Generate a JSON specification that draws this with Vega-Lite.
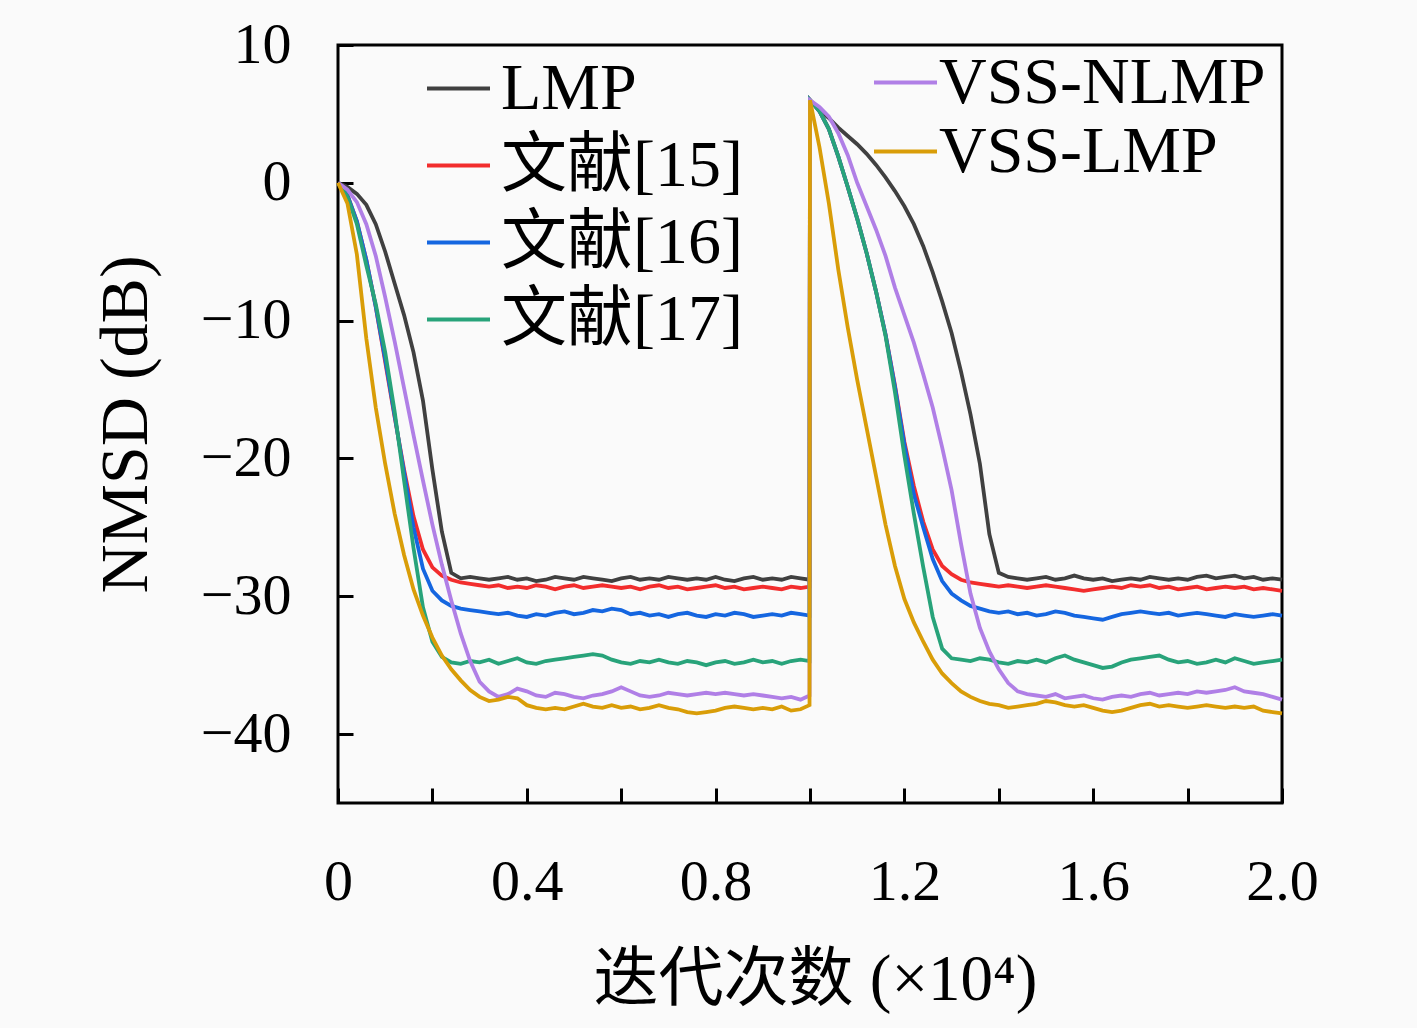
{
  "$schema": "https://vega.github.io/schema/vega-lite/v6.json",
  "width": 944,
  "height": 758,
  "autosize": "none",
  "padding": {"left": 338, "top": 45, "right": 135, "bottom": 225},
  "background": "#fafafa",
  "data": {
    "values": [
      {"s":"L","x":0,"y":0},{"s":"L","x":0.02,"y":-0.3},{"s":"L","x":0.04,"y":-0.8},{"s":"L","x":0.06,"y":-1.6},{"s":"L","x":0.08,"y":-3.0},{"s":"L","x":0.1,"y":-5.0},{"s":"L","x":0.12,"y":-7.3},{"s":"L","x":0.14,"y":-9.6},{"s":"L","x":0.16,"y":-12.3},{"s":"L","x":0.18,"y":-15.8},{"s":"L","x":0.2,"y":-20.8},{"s":"L","x":0.22,"y":-25.3},{"s":"L","x":0.24,"y":-28.3},{"s":"L","x":0.26,"y":-28.7},{"s":"L","x":0.28,"y":-28.6},{"s":"L","x":0.3,"y":-28.7},{"s":"L","x":0.32,"y":-28.8},{"s":"L","x":0.34,"y":-28.7},{"s":"L","x":0.36,"y":-28.6},{"s":"L","x":0.38,"y":-28.8},{"s":"L","x":0.4,"y":-28.7},{"s":"L","x":0.42,"y":-28.9},{"s":"L","x":0.44,"y":-28.8},{"s":"L","x":0.46,"y":-28.6},{"s":"L","x":0.48,"y":-28.7},{"s":"L","x":0.5,"y":-28.8},{"s":"L","x":0.52,"y":-28.6},{"s":"L","x":0.54,"y":-28.7},{"s":"L","x":0.56,"y":-28.8},{"s":"L","x":0.58,"y":-28.9},{"s":"L","x":0.6,"y":-28.7},{"s":"L","x":0.62,"y":-28.6},{"s":"L","x":0.64,"y":-28.8},{"s":"L","x":0.66,"y":-28.7},{"s":"L","x":0.68,"y":-28.8},{"s":"L","x":0.7,"y":-28.6},{"s":"L","x":0.72,"y":-28.7},{"s":"L","x":0.74,"y":-28.8},{"s":"L","x":0.76,"y":-28.7},{"s":"L","x":0.78,"y":-28.8},{"s":"L","x":0.8,"y":-28.6},{"s":"L","x":0.82,"y":-28.8},{"s":"L","x":0.84,"y":-28.9},{"s":"L","x":0.86,"y":-28.7},{"s":"L","x":0.88,"y":-28.6},{"s":"L","x":0.9,"y":-28.8},{"s":"L","x":0.92,"y":-28.7},{"s":"L","x":0.94,"y":-28.8},{"s":"L","x":0.96,"y":-28.6},{"s":"L","x":0.98,"y":-28.7},{"s":"L","x":0.999,"y":-28.8},
      {"s":"L","x":1,"y":6.0},{"s":"L","x":1.02,"y":5.3},{"s":"L","x":1.04,"y":4.7},{"s":"L","x":1.06,"y":4.0},{"s":"L","x":1.08,"y":3.4},{"s":"L","x":1.1,"y":2.8},{"s":"L","x":1.12,"y":2.1},{"s":"L","x":1.14,"y":1.3},{"s":"L","x":1.16,"y":0.4},{"s":"L","x":1.18,"y":-0.6},{"s":"L","x":1.2,"y":-1.7},{"s":"L","x":1.22,"y":-3.0},{"s":"L","x":1.24,"y":-4.6},{"s":"L","x":1.26,"y":-6.5},{"s":"L","x":1.28,"y":-8.6},{"s":"L","x":1.3,"y":-10.9},{"s":"L","x":1.32,"y":-13.7},{"s":"L","x":1.34,"y":-16.8},{"s":"L","x":1.36,"y":-20.4},{"s":"L","x":1.38,"y":-25.5},{"s":"L","x":1.4,"y":-28.3},{"s":"L","x":1.42,"y":-28.6},{"s":"L","x":1.44,"y":-28.7},{"s":"L","x":1.46,"y":-28.8},{"s":"L","x":1.48,"y":-28.7},{"s":"L","x":1.5,"y":-28.6},{"s":"L","x":1.52,"y":-28.8},{"s":"L","x":1.54,"y":-28.7},{"s":"L","x":1.56,"y":-28.5},{"s":"L","x":1.58,"y":-28.7},{"s":"L","x":1.6,"y":-28.8},{"s":"L","x":1.62,"y":-28.7},{"s":"L","x":1.64,"y":-28.9},{"s":"L","x":1.66,"y":-28.8},{"s":"L","x":1.68,"y":-28.7},{"s":"L","x":1.7,"y":-28.8},{"s":"L","x":1.72,"y":-28.6},{"s":"L","x":1.74,"y":-28.7},{"s":"L","x":1.76,"y":-28.8},{"s":"L","x":1.78,"y":-28.7},{"s":"L","x":1.8,"y":-28.8},{"s":"L","x":1.82,"y":-28.6},{"s":"L","x":1.84,"y":-28.5},{"s":"L","x":1.86,"y":-28.7},{"s":"L","x":1.88,"y":-28.6},{"s":"L","x":1.9,"y":-28.5},{"s":"L","x":1.92,"y":-28.7},{"s":"L","x":1.94,"y":-28.6},{"s":"L","x":1.96,"y":-28.8},{"s":"L","x":1.98,"y":-28.7},{"s":"L","x":2,"y":-28.8},

      {"s":"R","x":0,"y":0},{"s":"R","x":0.02,"y":-0.9},{"s":"R","x":0.04,"y":-2.8},{"s":"R","x":0.06,"y":-5.6},{"s":"R","x":0.08,"y":-9.0},{"s":"R","x":0.1,"y":-13.0},{"s":"R","x":0.12,"y":-17.0},{"s":"R","x":0.14,"y":-20.8},{"s":"R","x":0.16,"y":-24.2},{"s":"R","x":0.18,"y":-26.6},{"s":"R","x":0.2,"y":-27.9},{"s":"R","x":0.22,"y":-28.5},{"s":"R","x":0.24,"y":-28.8},{"s":"R","x":0.26,"y":-29.0},{"s":"R","x":0.28,"y":-29.1},{"s":"R","x":0.3,"y":-29.2},{"s":"R","x":0.32,"y":-29.3},{"s":"R","x":0.34,"y":-29.2},{"s":"R","x":0.36,"y":-29.4},{"s":"R","x":0.38,"y":-29.3},{"s":"R","x":0.4,"y":-29.4},{"s":"R","x":0.42,"y":-29.2},{"s":"R","x":0.44,"y":-29.3},{"s":"R","x":0.46,"y":-29.5},{"s":"R","x":0.48,"y":-29.3},{"s":"R","x":0.5,"y":-29.2},{"s":"R","x":0.52,"y":-29.4},{"s":"R","x":0.54,"y":-29.3},{"s":"R","x":0.56,"y":-29.2},{"s":"R","x":0.58,"y":-29.3},{"s":"R","x":0.6,"y":-29.4},{"s":"R","x":0.62,"y":-29.3},{"s":"R","x":0.64,"y":-29.5},{"s":"R","x":0.66,"y":-29.3},{"s":"R","x":0.68,"y":-29.2},{"s":"R","x":0.7,"y":-29.4},{"s":"R","x":0.72,"y":-29.3},{"s":"R","x":0.74,"y":-29.5},{"s":"R","x":0.76,"y":-29.4},{"s":"R","x":0.78,"y":-29.3},{"s":"R","x":0.8,"y":-29.2},{"s":"R","x":0.82,"y":-29.4},{"s":"R","x":0.84,"y":-29.3},{"s":"R","x":0.86,"y":-29.5},{"s":"R","x":0.88,"y":-29.4},{"s":"R","x":0.9,"y":-29.3},{"s":"R","x":0.92,"y":-29.4},{"s":"R","x":0.94,"y":-29.5},{"s":"R","x":0.96,"y":-29.3},{"s":"R","x":0.98,"y":-29.4},{"s":"R","x":0.999,"y":-29.3},
      {"s":"R","x":1,"y":6.0},{"s":"R","x":1.02,"y":5.2},{"s":"R","x":1.04,"y":3.9},{"s":"R","x":1.06,"y":1.9},{"s":"R","x":1.08,"y":-0.3},{"s":"R","x":1.1,"y":-2.6},{"s":"R","x":1.12,"y":-5.1},{"s":"R","x":1.14,"y":-7.9},{"s":"R","x":1.16,"y":-11.0},{"s":"R","x":1.18,"y":-14.7},{"s":"R","x":1.2,"y":-18.8},{"s":"R","x":1.22,"y":-22.0},{"s":"R","x":1.24,"y":-24.6},{"s":"R","x":1.26,"y":-26.6},{"s":"R","x":1.28,"y":-27.8},{"s":"R","x":1.3,"y":-28.4},{"s":"R","x":1.32,"y":-28.8},{"s":"R","x":1.34,"y":-29.0},{"s":"R","x":1.36,"y":-29.1},{"s":"R","x":1.38,"y":-29.2},{"s":"R","x":1.4,"y":-29.3},{"s":"R","x":1.42,"y":-29.2},{"s":"R","x":1.44,"y":-29.3},{"s":"R","x":1.46,"y":-29.4},{"s":"R","x":1.48,"y":-29.3},{"s":"R","x":1.5,"y":-29.2},{"s":"R","x":1.52,"y":-29.3},{"s":"R","x":1.54,"y":-29.4},{"s":"R","x":1.56,"y":-29.5},{"s":"R","x":1.58,"y":-29.6},{"s":"R","x":1.6,"y":-29.5},{"s":"R","x":1.62,"y":-29.4},{"s":"R","x":1.64,"y":-29.3},{"s":"R","x":1.66,"y":-29.4},{"s":"R","x":1.68,"y":-29.2},{"s":"R","x":1.7,"y":-29.3},{"s":"R","x":1.72,"y":-29.2},{"s":"R","x":1.74,"y":-29.4},{"s":"R","x":1.76,"y":-29.3},{"s":"R","x":1.78,"y":-29.5},{"s":"R","x":1.8,"y":-29.4},{"s":"R","x":1.82,"y":-29.3},{"s":"R","x":1.84,"y":-29.5},{"s":"R","x":1.86,"y":-29.4},{"s":"R","x":1.88,"y":-29.3},{"s":"R","x":1.9,"y":-29.4},{"s":"R","x":1.92,"y":-29.3},{"s":"R","x":1.94,"y":-29.5},{"s":"R","x":1.96,"y":-29.4},{"s":"R","x":1.98,"y":-29.5},{"s":"R","x":2,"y":-29.6},

      {"s":"B","x":0,"y":0},{"s":"B","x":0.02,"y":-0.9},{"s":"B","x":0.04,"y":-2.8},{"s":"B","x":0.06,"y":-5.6},{"s":"B","x":0.08,"y":-9.0},{"s":"B","x":0.1,"y":-12.8},{"s":"B","x":0.12,"y":-16.9},{"s":"B","x":0.14,"y":-21.0},{"s":"B","x":0.16,"y":-25.0},{"s":"B","x":0.18,"y":-28.0},{"s":"B","x":0.2,"y":-29.6},{"s":"B","x":0.22,"y":-30.3},{"s":"B","x":0.24,"y":-30.7},{"s":"B","x":0.26,"y":-30.9},{"s":"B","x":0.28,"y":-31.0},{"s":"B","x":0.3,"y":-31.1},{"s":"B","x":0.32,"y":-31.2},{"s":"B","x":0.34,"y":-31.3},{"s":"B","x":0.36,"y":-31.2},{"s":"B","x":0.38,"y":-31.4},{"s":"B","x":0.4,"y":-31.5},{"s":"B","x":0.42,"y":-31.3},{"s":"B","x":0.44,"y":-31.4},{"s":"B","x":0.46,"y":-31.2},{"s":"B","x":0.48,"y":-31.1},{"s":"B","x":0.5,"y":-31.3},{"s":"B","x":0.52,"y":-31.2},{"s":"B","x":0.54,"y":-31.0},{"s":"B","x":0.56,"y":-31.1},{"s":"B","x":0.58,"y":-30.9},{"s":"B","x":0.6,"y":-31.0},{"s":"B","x":0.62,"y":-31.3},{"s":"B","x":0.64,"y":-31.2},{"s":"B","x":0.66,"y":-31.4},{"s":"B","x":0.68,"y":-31.3},{"s":"B","x":0.7,"y":-31.5},{"s":"B","x":0.72,"y":-31.3},{"s":"B","x":0.74,"y":-31.2},{"s":"B","x":0.76,"y":-31.4},{"s":"B","x":0.78,"y":-31.5},{"s":"B","x":0.8,"y":-31.3},{"s":"B","x":0.82,"y":-31.4},{"s":"B","x":0.84,"y":-31.2},{"s":"B","x":0.86,"y":-31.3},{"s":"B","x":0.88,"y":-31.5},{"s":"B","x":0.9,"y":-31.4},{"s":"B","x":0.92,"y":-31.3},{"s":"B","x":0.94,"y":-31.4},{"s":"B","x":0.96,"y":-31.2},{"s":"B","x":0.98,"y":-31.3},{"s":"B","x":0.999,"y":-31.4},
      {"s":"B","x":1,"y":6.0},{"s":"B","x":1.02,"y":5.2},{"s":"B","x":1.04,"y":3.9},{"s":"B","x":1.06,"y":1.9},{"s":"B","x":1.08,"y":-0.3},{"s":"B","x":1.1,"y":-2.6},{"s":"B","x":1.12,"y":-5.1},{"s":"B","x":1.14,"y":-7.9},{"s":"B","x":1.16,"y":-11.0},{"s":"B","x":1.18,"y":-14.8},{"s":"B","x":1.2,"y":-19.0},{"s":"B","x":1.22,"y":-22.6},{"s":"B","x":1.24,"y":-25.0},{"s":"B","x":1.26,"y":-27.3},{"s":"B","x":1.28,"y":-28.9},{"s":"B","x":1.3,"y":-29.8},{"s":"B","x":1.32,"y":-30.3},{"s":"B","x":1.34,"y":-30.7},{"s":"B","x":1.36,"y":-30.9},{"s":"B","x":1.38,"y":-31.1},{"s":"B","x":1.4,"y":-31.2},{"s":"B","x":1.42,"y":-31.1},{"s":"B","x":1.44,"y":-31.3},{"s":"B","x":1.46,"y":-31.2},{"s":"B","x":1.48,"y":-31.4},{"s":"B","x":1.5,"y":-31.3},{"s":"B","x":1.52,"y":-31.1},{"s":"B","x":1.54,"y":-31.2},{"s":"B","x":1.56,"y":-31.4},{"s":"B","x":1.58,"y":-31.5},{"s":"B","x":1.6,"y":-31.6},{"s":"B","x":1.62,"y":-31.7},{"s":"B","x":1.64,"y":-31.5},{"s":"B","x":1.66,"y":-31.3},{"s":"B","x":1.68,"y":-31.2},{"s":"B","x":1.7,"y":-31.1},{"s":"B","x":1.72,"y":-31.2},{"s":"B","x":1.74,"y":-31.3},{"s":"B","x":1.76,"y":-31.2},{"s":"B","x":1.78,"y":-31.4},{"s":"B","x":1.8,"y":-31.3},{"s":"B","x":1.82,"y":-31.2},{"s":"B","x":1.84,"y":-31.3},{"s":"B","x":1.86,"y":-31.4},{"s":"B","x":1.88,"y":-31.5},{"s":"B","x":1.9,"y":-31.3},{"s":"B","x":1.92,"y":-31.4},{"s":"B","x":1.94,"y":-31.5},{"s":"B","x":1.96,"y":-31.4},{"s":"B","x":1.98,"y":-31.3},{"s":"B","x":2,"y":-31.4},

      {"s":"G","x":0,"y":0},{"s":"G","x":0.02,"y":-1.0},{"s":"G","x":0.04,"y":-3.0},{"s":"G","x":0.06,"y":-6.0},{"s":"G","x":0.08,"y":-8.8},{"s":"G","x":0.1,"y":-12.3},{"s":"G","x":0.12,"y":-16.6},{"s":"G","x":0.14,"y":-21.6},{"s":"G","x":0.16,"y":-26.5},{"s":"G","x":0.18,"y":-30.8},{"s":"G","x":0.2,"y":-33.3},{"s":"G","x":0.22,"y":-34.4},{"s":"G","x":0.24,"y":-34.8},{"s":"G","x":0.26,"y":-34.9},{"s":"G","x":0.28,"y":-34.7},{"s":"G","x":0.3,"y":-34.8},{"s":"G","x":0.32,"y":-34.6},{"s":"G","x":0.34,"y":-34.9},{"s":"G","x":0.36,"y":-34.7},{"s":"G","x":0.38,"y":-34.5},{"s":"G","x":0.4,"y":-34.8},{"s":"G","x":0.42,"y":-34.9},{"s":"G","x":0.44,"y":-34.7},{"s":"G","x":0.46,"y":-34.6},{"s":"G","x":0.48,"y":-34.5},{"s":"G","x":0.5,"y":-34.4},{"s":"G","x":0.52,"y":-34.3},{"s":"G","x":0.54,"y":-34.2},{"s":"G","x":0.56,"y":-34.3},{"s":"G","x":0.58,"y":-34.6},{"s":"G","x":0.6,"y":-34.8},{"s":"G","x":0.62,"y":-34.9},{"s":"G","x":0.64,"y":-34.7},{"s":"G","x":0.66,"y":-34.8},{"s":"G","x":0.68,"y":-34.6},{"s":"G","x":0.7,"y":-34.8},{"s":"G","x":0.72,"y":-34.9},{"s":"G","x":0.74,"y":-34.7},{"s":"G","x":0.76,"y":-34.8},{"s":"G","x":0.78,"y":-35.0},{"s":"G","x":0.8,"y":-34.8},{"s":"G","x":0.82,"y":-34.7},{"s":"G","x":0.84,"y":-34.9},{"s":"G","x":0.86,"y":-34.8},{"s":"G","x":0.88,"y":-34.6},{"s":"G","x":0.9,"y":-34.8},{"s":"G","x":0.92,"y":-34.7},{"s":"G","x":0.94,"y":-34.9},{"s":"G","x":0.96,"y":-34.7},{"s":"G","x":0.98,"y":-34.6},{"s":"G","x":0.999,"y":-34.7},
      {"s":"G","x":1,"y":6.0},{"s":"G","x":1.02,"y":5.2},{"s":"G","x":1.04,"y":3.9},{"s":"G","x":1.06,"y":1.9},{"s":"G","x":1.08,"y":-0.3},{"s":"G","x":1.1,"y":-2.6},{"s":"G","x":1.12,"y":-5.1},{"s":"G","x":1.14,"y":-7.9},{"s":"G","x":1.16,"y":-11.1},{"s":"G","x":1.18,"y":-15.2},{"s":"G","x":1.2,"y":-19.8},{"s":"G","x":1.22,"y":-24.0},{"s":"G","x":1.24,"y":-27.9},{"s":"G","x":1.26,"y":-31.5},{"s":"G","x":1.28,"y":-33.8},{"s":"G","x":1.3,"y":-34.5},{"s":"G","x":1.32,"y":-34.6},{"s":"G","x":1.34,"y":-34.7},{"s":"G","x":1.36,"y":-34.5},{"s":"G","x":1.38,"y":-34.6},{"s":"G","x":1.4,"y":-34.8},{"s":"G","x":1.42,"y":-34.9},{"s":"G","x":1.44,"y":-34.7},{"s":"G","x":1.46,"y":-34.8},{"s":"G","x":1.48,"y":-34.6},{"s":"G","x":1.5,"y":-34.8},{"s":"G","x":1.52,"y":-34.5},{"s":"G","x":1.54,"y":-34.3},{"s":"G","x":1.56,"y":-34.6},{"s":"G","x":1.58,"y":-34.8},{"s":"G","x":1.6,"y":-35.0},{"s":"G","x":1.62,"y":-35.2},{"s":"G","x":1.64,"y":-35.1},{"s":"G","x":1.66,"y":-34.8},{"s":"G","x":1.68,"y":-34.6},{"s":"G","x":1.7,"y":-34.5},{"s":"G","x":1.72,"y":-34.4},{"s":"G","x":1.74,"y":-34.3},{"s":"G","x":1.76,"y":-34.6},{"s":"G","x":1.78,"y":-34.8},{"s":"G","x":1.8,"y":-34.7},{"s":"G","x":1.82,"y":-34.9},{"s":"G","x":1.84,"y":-34.8},{"s":"G","x":1.86,"y":-34.6},{"s":"G","x":1.88,"y":-34.8},{"s":"G","x":1.9,"y":-34.5},{"s":"G","x":1.92,"y":-34.7},{"s":"G","x":1.94,"y":-34.9},{"s":"G","x":1.96,"y":-34.8},{"s":"G","x":1.98,"y":-34.7},{"s":"G","x":2,"y":-34.6},

      {"s":"P","x":0,"y":0},{"s":"P","x":0.02,"y":-0.5},{"s":"P","x":0.04,"y":-1.4},{"s":"P","x":0.06,"y":-3.0},{"s":"P","x":0.08,"y":-5.3},{"s":"P","x":0.1,"y":-8.3},{"s":"P","x":0.12,"y":-11.5},{"s":"P","x":0.14,"y":-14.9},{"s":"P","x":0.16,"y":-18.3},{"s":"P","x":0.18,"y":-21.6},{"s":"P","x":0.2,"y":-24.8},{"s":"P","x":0.22,"y":-27.7},{"s":"P","x":0.24,"y":-30.3},{"s":"P","x":0.26,"y":-32.7},{"s":"P","x":0.28,"y":-34.7},{"s":"P","x":0.3,"y":-36.2},{"s":"P","x":0.32,"y":-36.9},{"s":"P","x":0.34,"y":-37.3},{"s":"P","x":0.36,"y":-37.1},{"s":"P","x":0.38,"y":-36.7},{"s":"P","x":0.4,"y":-36.9},{"s":"P","x":0.42,"y":-37.2},{"s":"P","x":0.44,"y":-37.3},{"s":"P","x":0.46,"y":-37.0},{"s":"P","x":0.48,"y":-37.1},{"s":"P","x":0.5,"y":-37.3},{"s":"P","x":0.52,"y":-37.4},{"s":"P","x":0.54,"y":-37.2},{"s":"P","x":0.56,"y":-37.1},{"s":"P","x":0.58,"y":-36.9},{"s":"P","x":0.6,"y":-36.6},{"s":"P","x":0.62,"y":-36.9},{"s":"P","x":0.64,"y":-37.2},{"s":"P","x":0.66,"y":-37.3},{"s":"P","x":0.68,"y":-37.2},{"s":"P","x":0.7,"y":-37.0},{"s":"P","x":0.72,"y":-37.1},{"s":"P","x":0.74,"y":-37.2},{"s":"P","x":0.76,"y":-37.1},{"s":"P","x":0.78,"y":-37.0},{"s":"P","x":0.8,"y":-37.1},{"s":"P","x":0.82,"y":-37.0},{"s":"P","x":0.84,"y":-37.1},{"s":"P","x":0.86,"y":-37.2},{"s":"P","x":0.88,"y":-37.1},{"s":"P","x":0.9,"y":-37.2},{"s":"P","x":0.92,"y":-37.3},{"s":"P","x":0.94,"y":-37.4},{"s":"P","x":0.96,"y":-37.3},{"s":"P","x":0.98,"y":-37.5},{"s":"P","x":0.999,"y":-37.2},
      {"s":"P","x":1,"y":6.0},{"s":"P","x":1.02,"y":5.5},{"s":"P","x":1.04,"y":4.8},{"s":"P","x":1.06,"y":3.6},{"s":"P","x":1.08,"y":2.0},{"s":"P","x":1.1,"y":0.0},{"s":"P","x":1.12,"y":-1.7},{"s":"P","x":1.14,"y":-3.4},{"s":"P","x":1.16,"y":-5.3},{"s":"P","x":1.18,"y":-7.6},{"s":"P","x":1.2,"y":-9.6},{"s":"P","x":1.22,"y":-11.6},{"s":"P","x":1.24,"y":-13.9},{"s":"P","x":1.26,"y":-16.3},{"s":"P","x":1.28,"y":-19.2},{"s":"P","x":1.3,"y":-22.3},{"s":"P","x":1.32,"y":-26.2},{"s":"P","x":1.34,"y":-29.8},{"s":"P","x":1.36,"y":-32.3},{"s":"P","x":1.38,"y":-34.0},{"s":"P","x":1.4,"y":-35.3},{"s":"P","x":1.42,"y":-36.3},{"s":"P","x":1.44,"y":-36.9},{"s":"P","x":1.46,"y":-37.1},{"s":"P","x":1.48,"y":-37.2},{"s":"P","x":1.5,"y":-37.3},{"s":"P","x":1.52,"y":-37.1},{"s":"P","x":1.54,"y":-37.4},{"s":"P","x":1.56,"y":-37.3},{"s":"P","x":1.58,"y":-37.2},{"s":"P","x":1.6,"y":-37.4},{"s":"P","x":1.62,"y":-37.5},{"s":"P","x":1.64,"y":-37.3},{"s":"P","x":1.66,"y":-37.2},{"s":"P","x":1.68,"y":-37.3},{"s":"P","x":1.7,"y":-37.1},{"s":"P","x":1.72,"y":-37.0},{"s":"P","x":1.74,"y":-37.2},{"s":"P","x":1.76,"y":-37.1},{"s":"P","x":1.78,"y":-37.0},{"s":"P","x":1.8,"y":-37.1},{"s":"P","x":1.82,"y":-36.9},{"s":"P","x":1.84,"y":-37.0},{"s":"P","x":1.86,"y":-36.9},{"s":"P","x":1.88,"y":-36.8},{"s":"P","x":1.9,"y":-36.6},{"s":"P","x":1.92,"y":-36.9},{"s":"P","x":1.94,"y":-37.0},{"s":"P","x":1.96,"y":-37.1},{"s":"P","x":1.98,"y":-37.3},{"s":"P","x":2,"y":-37.5},

      {"s":"O","x":0,"y":0},{"s":"O","x":0.02,"y":-1.5},{"s":"O","x":0.04,"y":-5.2},{"s":"O","x":0.06,"y":-11.3},{"s":"O","x":0.08,"y":-16.3},{"s":"O","x":0.1,"y":-20.4},{"s":"O","x":0.12,"y":-24.0},{"s":"O","x":0.14,"y":-27.0},{"s":"O","x":0.16,"y":-29.5},{"s":"O","x":0.18,"y":-31.4},{"s":"O","x":0.2,"y":-33.0},{"s":"O","x":0.22,"y":-34.3},{"s":"O","x":0.24,"y":-35.3},{"s":"O","x":0.26,"y":-36.1},{"s":"O","x":0.28,"y":-36.8},{"s":"O","x":0.3,"y":-37.3},{"s":"O","x":0.32,"y":-37.6},{"s":"O","x":0.34,"y":-37.5},{"s":"O","x":0.36,"y":-37.3},{"s":"O","x":0.38,"y":-37.4},{"s":"O","x":0.4,"y":-37.9},{"s":"O","x":0.42,"y":-38.1},{"s":"O","x":0.44,"y":-38.2},{"s":"O","x":0.46,"y":-38.1},{"s":"O","x":0.48,"y":-38.2},{"s":"O","x":0.5,"y":-38.0},{"s":"O","x":0.52,"y":-37.8},{"s":"O","x":0.54,"y":-38.0},{"s":"O","x":0.56,"y":-38.1},{"s":"O","x":0.58,"y":-37.9},{"s":"O","x":0.6,"y":-38.1},{"s":"O","x":0.62,"y":-38.0},{"s":"O","x":0.64,"y":-38.2},{"s":"O","x":0.66,"y":-38.1},{"s":"O","x":0.68,"y":-37.9},{"s":"O","x":0.7,"y":-38.1},{"s":"O","x":0.72,"y":-38.2},{"s":"O","x":0.74,"y":-38.4},{"s":"O","x":0.76,"y":-38.5},{"s":"O","x":0.78,"y":-38.4},{"s":"O","x":0.8,"y":-38.3},{"s":"O","x":0.82,"y":-38.1},{"s":"O","x":0.84,"y":-38.0},{"s":"O","x":0.86,"y":-38.1},{"s":"O","x":0.88,"y":-38.2},{"s":"O","x":0.9,"y":-38.1},{"s":"O","x":0.92,"y":-38.2},{"s":"O","x":0.94,"y":-38.0},{"s":"O","x":0.96,"y":-38.3},{"s":"O","x":0.98,"y":-38.2},{"s":"O","x":0.999,"y":-37.9},
      {"s":"O","x":1,"y":6.0},{"s":"O","x":1.02,"y":2.6},{"s":"O","x":1.04,"y":-1.5},{"s":"O","x":1.06,"y":-6.3},{"s":"O","x":1.08,"y":-10.5},{"s":"O","x":1.1,"y":-14.3},{"s":"O","x":1.12,"y":-17.8},{"s":"O","x":1.14,"y":-21.3},{"s":"O","x":1.16,"y":-24.8},{"s":"O","x":1.18,"y":-27.8},{"s":"O","x":1.2,"y":-30.2},{"s":"O","x":1.22,"y":-31.9},{"s":"O","x":1.24,"y":-33.3},{"s":"O","x":1.26,"y":-34.6},{"s":"O","x":1.28,"y":-35.6},{"s":"O","x":1.3,"y":-36.3},{"s":"O","x":1.32,"y":-36.9},{"s":"O","x":1.34,"y":-37.3},{"s":"O","x":1.36,"y":-37.6},{"s":"O","x":1.38,"y":-37.8},{"s":"O","x":1.4,"y":-37.9},{"s":"O","x":1.42,"y":-38.1},{"s":"O","x":1.44,"y":-38.0},{"s":"O","x":1.46,"y":-37.9},{"s":"O","x":1.48,"y":-37.8},{"s":"O","x":1.5,"y":-37.6},{"s":"O","x":1.52,"y":-37.7},{"s":"O","x":1.54,"y":-37.9},{"s":"O","x":1.56,"y":-38.0},{"s":"O","x":1.58,"y":-37.9},{"s":"O","x":1.6,"y":-38.1},{"s":"O","x":1.62,"y":-38.3},{"s":"O","x":1.64,"y":-38.4},{"s":"O","x":1.66,"y":-38.3},{"s":"O","x":1.68,"y":-38.1},{"s":"O","x":1.7,"y":-37.9},{"s":"O","x":1.72,"y":-37.8},{"s":"O","x":1.74,"y":-38.0},{"s":"O","x":1.76,"y":-37.9},{"s":"O","x":1.78,"y":-38.0},{"s":"O","x":1.8,"y":-38.1},{"s":"O","x":1.82,"y":-38.0},{"s":"O","x":1.84,"y":-37.9},{"s":"O","x":1.86,"y":-38.0},{"s":"O","x":1.88,"y":-38.1},{"s":"O","x":1.9,"y":-38.0},{"s":"O","x":1.92,"y":-38.1},{"s":"O","x":1.94,"y":-38.0},{"s":"O","x":1.96,"y":-38.3},{"s":"O","x":1.98,"y":-38.4},{"s":"O","x":2,"y":-38.5}
    ]
  },
  "encoding": {
    "x": {
      "field": "x",
      "type": "quantitative",
      "scale": {"domain": [0, 2], "nice": false, "zero": false},
      "axis": {
        "values": [0, 0.2, 0.4, 0.6, 0.8, 1, 1.2, 1.4, 1.6, 1.8, 2],
        "labelExpr": "datum.value == 0 ? '0' : (round(datum.value * 10) % 4 == 0 ? format(datum.value, '.1f') : '')",
        "labelPadding": 65,
        "title": "迭代次数 (×10⁴)",
        "titleFontSize": 65,
        "titleX": 477,
        "titleY": 196,
        "titleBaseline": "alphabetic",
        "titleAlign": "center",
        "titleAnchor": null
      }
    },
    "y": {
      "field": "y",
      "type": "quantitative",
      "scale": {"domain": [-45, 10], "nice": false, "zero": false},
      "axis": {
        "values": [10, 0, -10, -20, -30, -40],
        "format": "d",
        "labelPadding": 62,
        "title": "NMSD (dB)",
        "titleFontSize": 68,
        "titleAngle": 270,
        "titleX": -192,
        "titleY": 379,
        "titleBaseline": "alphabetic",
        "titleAlign": "center",
        "titleAnchor": null
      }
    }
  },
  "layer": [
    {
      "transform": [{"filter": {"field": "s", "oneOf": ["L", "R", "B", "G"]}}],
      "mark": {"type": "line", "strokeWidth": 3.8},
      "encoding": {
        "color": {
          "field": "s",
          "type": "nominal",
          "scale": {"domain": ["L", "R", "B", "G"], "range": ["#404040", "#f22d2d", "#1566e0", "#28a37a"]},
          "legend": {
            "orient": "none",
            "legendX": 87,
            "legendY": 10,
            "direction": "vertical",
            "rowPadding": 10,
            "labelOffset": 9,
            "labelExpr": "datum.label == 'L' ? 'LMP' : datum.label == 'R' ? '文献[15]' : datum.label == 'B' ? '文献[16]' : '文献[17]'"
          }
        }
      }
    },
    {
      "transform": [{"filter": {"field": "s", "oneOf": ["P", "O"]}}],
      "mark": {"type": "line", "strokeWidth": 3.8},
      "encoding": {
        "stroke": {
          "field": "s",
          "type": "nominal",
          "scale": {"domain": ["P", "O"], "range": ["#b07fe6", "#d99d08"]},
          "legend": {
            "orient": "none",
            "legendX": 534,
            "legendY": 4,
            "direction": "vertical",
            "rowPadding": 2,
            "labelOffset": 0,
            "labelExpr": "datum.label == 'P' ? 'VSS-NLMP' : 'VSS-LMP'"
          }
        }
      }
    }
  ],
  "config": {
    "font": "Liberation Serif, Noto Sans CJK SC",
    "view": {"stroke": "#000000", "strokeWidth": 3},
    "axis": {
      "domain": false,
      "grid": false,
      "ticks": true,
      "tickSize": -15,
      "tickWidth": 3,
      "tickColor": "#000000",
      "labelFont": "Liberation Serif, Noto Sans CJK SC",
      "labelFontSize": 58,
      "labelColor": "#000000",
      "labelFlush": false,
      "labelOverlap": false,
      "labelBound": false,
      "titleFont": "Liberation Serif, Noto Sans CJK SC",
      "titleFontWeight": "normal",
      "titleColor": "#000000"
    },
    "legend": {
      "title": null,
      "padding": 0,
      "symbolType": "stroke",
      "symbolSize": 3969,
      "symbolStrokeWidth": 4,
      "labelFont": "Liberation Serif, Noto Sans CJK SC",
      "labelFontSize": 66,
      "labelColor": "#000000",
      "labelLimit": 600
    }
  }
}
